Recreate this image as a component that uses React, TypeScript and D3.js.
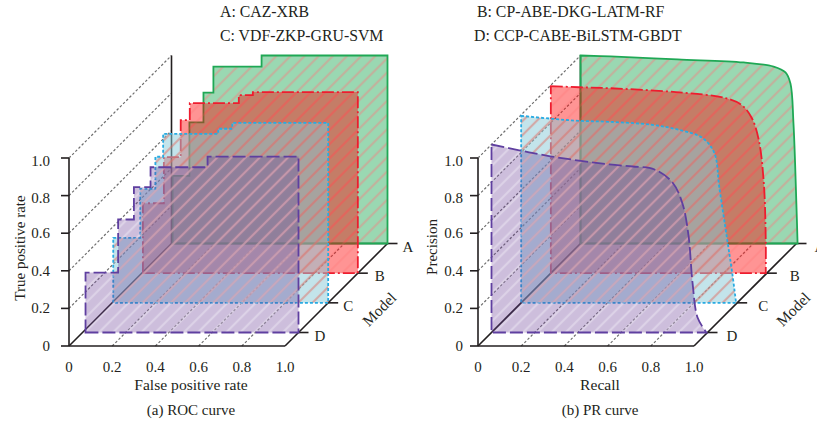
import * as d3 from 'd3'

const models = ['A', 'B', 'C', 'D']
const depthOrder = ['D', 'C', 'B', 'A']
const axisTicks = [0, 0.2, 0.4, 0.6, 0.8, 1.0]
const legendLeft = ['A: CAZ-XRB', 'C: VDF-ZKP-GRU-SVM']
const legendRight = ['B: CP-ABE-DKG-LATM-RF', 'D: CCP-CABE-BiLSTM-GBDT']

// ROC staircase corners, vertical step first
const rocA = [[0.005, 0], [0.083, 0.36], [0.148, 0.644], [0.194, 0.803], [0.417, 0.941], [1, 1], [1, 0]]
const rocB = [[0.005, 0], [0.102, 0.372], [0.18, 0.617], [0.222, 0.814], [0.449, 0.904], [0.514, 0.947], [1, 0.963], [1, 0]]
const rocC = [[0.005, 0], [0.13, 0.346], [0.2, 0.606], [0.236, 0.777], [0.491, 0.899], [0.556, 0.926], [1, 0.957], [1, 0]]
const rocD = [[0.014, 0], [0.165, 0.319], [0.238, 0.601], [0.315, 0.773], [0.579, 0.879], [1, 0.936], [1, 0]]

// PR curves
const prA = [[0, 1], [0.139, 0.995], [0.449, 0.979], [0.755, 0.963], [0.894, 0.941], [0.949, 0.91], [0.972, 0.851], [0.986, 0.638], [1, 0.191], [1.005, 0]]
const prB = [[0, 0.995], [0.13, 0.989], [0.269, 0.984], [0.579, 0.963], [0.81, 0.931], [0.884, 0.894], [0.931, 0.824], [0.963, 0.707], [0.986, 0.479], [0.995, 0.176], [0.995, 0]]
const prC = [[0, 0.995], [0.144, 0.979], [0.269, 0.968], [0.407, 0.963], [0.606, 0.947], [0.731, 0.92], [0.838, 0.878], [0.894, 0.798], [0.917, 0.617], [0.954, 0.335], [0.977, 0.16], [0.995, 0]]
const prD = [[0, 1], [0.134, 0.968], [0.278, 0.936], [0.546, 0.894], [0.653, 0.883], [0.755, 0.867], [0.838, 0.798], [0.884, 0.686], [0.912, 0.516], [0.931, 0.261], [0.954, 0.08], [0.995, 0]]

const styles = {
    A: { fill: '#1fa855', fillOpacity: 0.45, stroke: '#1fa855', dash: null, hatch: 'rgba(240,130,130,0.45)' },
    B: { fill: '#ff0000', fillOpacity: 0.42, stroke: '#ee1c2e', dash: '12 3 2 3', hatch: 'rgba(255,100,100,0.18)' },
    C: { fill: '#88cad8', fillOpacity: 0.5, stroke: '#29abe2', dash: '3 2', hatch: 'rgba(225,110,100,0.5)' },
    D: { fill: '#643593', fillOpacity: 0.32, stroke: '#5f3fa0', dash: '13 4', hatch: 'rgba(255,255,255,0.3)' }
}

const FONT = '"Liberation Serif", serif'
const INK = '#231f20'
const WALL = 188
const SPAN = 216
const BASE_Y = 346

const depth = d3.scalePoint().domain(depthOrder).range([13.5, 102.5])
const yScale = d3.scaleLinear().domain([0, 1]).range([BASE_Y, BASE_Y - WALL])
const fmt = (v) => (v === 0 ? '0' : v.toFixed(1))

const Panel = ({ x0, data, curve, xLabel, yLabel, caption, tickGap, yLabelAt, modelAt, letterShift }) => {
    const xScale = d3.scaleLinear().domain([0, 1]).range([x0, x0 + SPAN])
    const back = depth('A')
    const line = d3
        .line()
        .x((d) => xScale(d[0]))
        .y((d) => yScale(d[1]))
        .curve(curve)

    return (
        <g>
            {/* dotted wall and floor lines */}
            {axisTicks.slice(1).map((t) => (
                <line
                    key={`w${t}`}
                    x1={x0}
                    y1={yScale(t)}
                    x2={x0 + back}
                    y2={yScale(t) - back}
                    stroke="#6e6e6e"
                    strokeWidth="1.2"
                    strokeDasharray="2.5 2"
                />
            ))}
            {axisTicks.slice(1, -1).map((t) => (
                <line
                    key={`f${t}`}
                    x1={xScale(t)}
                    y1={BASE_Y}
                    x2={xScale(t) + back}
                    y2={BASE_Y - back}
                    stroke="#6e6e6e"
                    strokeWidth="1.2"
                    strokeDasharray="2.5 2"
                />
            ))}

            {/* frame */}
            <g stroke={INK} strokeWidth="1.6" fill="none">
                <line x1={x0} y1={yScale(0)} x2={x0} y2={yScale(1)} />
                <line x1={x0} y1={BASE_Y} x2={x0 + SPAN} y2={BASE_Y} />
                <line x1={x0} y1={BASE_Y} x2={x0 + back} y2={BASE_Y - back} />
                <line x1={x0 + SPAN} y1={BASE_Y} x2={x0 + SPAN + back} y2={BASE_Y - back} />
                <line x1={x0 + back} y1={BASE_Y - back} x2={x0 + back} y2={yScale(1) - back} />
                <line x1={x0 + back} y1={BASE_Y - back} x2={x0 + SPAN + back} y2={BASE_Y - back} />
                {axisTicks.map((t) => (
                    <line key={t} x1={x0 - 8} y1={yScale(t)} x2={x0} y2={yScale(t)} />
                ))}
                {models.map((m) => (
                    <line
                        key={m}
                        x1={x0 + SPAN + depth(m)}
                        y1={BASE_Y - depth(m)}
                        x2={x0 + SPAN + depth(m) + 10}
                        y2={BASE_Y - depth(m)}
                    />
                ))}
            </g>

            {/* model sheets, back to front */}
            {models.map((m, i) => {
                const s = styles[m]
                const d = depth(m)
                const outline = `${line(data[i])}L${xScale(data[i][0][0])},${yScale(0)}Z`
                return (
                    <g key={m} transform={`translate(${d},${-d})`}>
                        <path d={outline} fill={s.fill} fillOpacity={s.fillOpacity} />
                        <path d={outline} fill={`url(#hatch${m})`} />
                        <path
                            d={outline}
                            fill="none"
                            stroke={s.stroke}
                            strokeWidth="1.8"
                            strokeDasharray={s.dash ?? undefined}
                        />
                    </g>
                )
            })}

            {/* tick labels */}
            <g fontFamily={FONT} fontSize="15" fill={INK}>
                {axisTicks.map((t) => (
                    <text key={`y${t}`} x={x0 - tickGap} y={yScale(t) + (t > 0.7 ? 7.5 : 5)} textAnchor="end">
                        {fmt(t)}
                    </text>
                ))}
                {axisTicks.map((t) => (
                    <text key={`x${t}`} x={xScale(t)} y={372} textAnchor="middle">
                        {fmt(t)}
                    </text>
                ))}
                {models.map((m, i) => (
                    <text key={m} x={x0 + SPAN + depth(m) + 15 + letterShift[i]} y={BASE_Y - depth(m) + 8}>
                        {m}
                    </text>
                ))}
                <text transform={`translate(${modelAt},313) rotate(-45)`} textAnchor="middle" fontSize="15.5">
                    Model
                </text>
                <text x={x0 + 122} y={390} textAnchor="middle" fontSize="15.6">
                    {xLabel}
                </text>
                <text transform={`translate(${yLabelAt[0]},${yLabelAt[1]}) rotate(-90)`} textAnchor="middle" fontSize="15">
                    {yLabel}
                </text>
                <text x={x0 + 122} y={415} textAnchor="middle" fontSize="15">
                    {caption}
                </text>
            </g>
        </g>
    )
}

export default function App() {
    return (
        <svg
            width={817}
            height={423}
            style={{ position: 'absolute', left: 0, top: 0, background: '#fff' }}
        >
            <defs>
                {models.map((m) => (
                    <pattern
                        key={m}
                        id={`hatch${m}`}
                        width="10"
                        height="10"
                        patternUnits="userSpaceOnUse"
                        patternTransform="rotate(45)"
                    >
                        <line x1="5" y1="0" x2="5" y2="10" stroke={styles[m].hatch} strokeWidth="2.2" />
                    </pattern>
                ))}
            </defs>

            <Panel
                x0={69}
                data={[rocA, rocB, rocC, rocD]}
                curve={d3.curveStepBefore}
                xLabel="False positive rate"
                yLabel="True positive rate"
                caption="(a) ROC curve"
                tickGap={19}
                yLabelAt={[25, 248]}
                modelAt={383}
                letterShift={[0, 2, 0, 1]}
            />
            <Panel
                x0={478}
                data={[prA, prB, prC, prD]}
                curve={d3.curveCatmullRom}
                xLabel="Recall"
                yLabel="Precision"
                caption="(b) PR curve"
                tickGap={15}
                yLabelAt={[437, 247]}
                modelAt={797}
                letterShift={[3, 8, 6, 4]}
            />

            <g fontFamily={FONT} fontSize="15.8" fill={INK}>
                {legendLeft.map((t, i) => (
                    <text key={t} x={220} y={17 + i * 24}>
                        {t}
                    </text>
                ))}
                {legendRight.map((t, i) => (
                    <text key={t} x={477 - i * 3} y={17 + i * 24}>
                        {t}
                    </text>
                ))}
            </g>
        </svg>
    )
}
